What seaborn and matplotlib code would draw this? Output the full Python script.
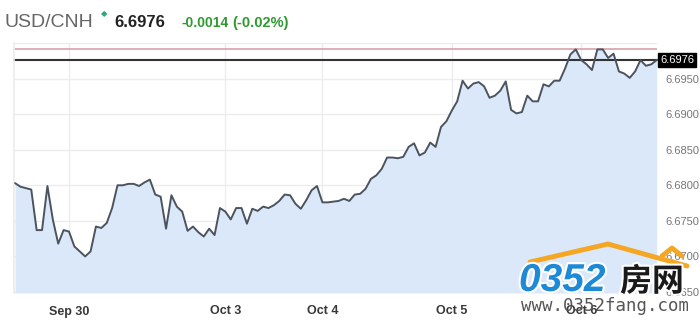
import matplotlib
matplotlib.use("Agg")
import matplotlib.pyplot as plt
import matplotlib.patheffects as pe
import seaborn as sns
import pandas as pd
import numpy as np

# ---- data ----
rate = [
    6.6803, 6.6798, 6.6796, 6.6794, 6.6737, 6.6737, 6.6799, 6.6752, 6.6718, 6.6737,
    6.6735, 6.6714, 6.6707, 6.6700, 6.6707, 6.6742, 6.6740, 6.6747, 6.6768, 6.6800,
    6.6800, 6.6802, 6.6802, 6.6799, 6.6804, 6.6808, 6.6787, 6.6784, 6.6739, 6.6786,
    6.6770, 6.6763, 6.6736, 6.6742, 6.6734, 6.6728, 6.6739, 6.6730, 6.6768, 6.6763,
    6.6752, 6.6768, 6.6768, 6.6746, 6.6767, 6.6764, 6.6770, 6.6768, 6.6772, 6.6778,
    6.6787, 6.6786, 6.6774, 6.6767, 6.6779, 6.6793, 6.6799, 6.6776, 6.6776, 6.6777,
    6.6778, 6.6781, 6.6778, 6.6787, 6.6788, 6.6795, 6.6809, 6.6814, 6.6823, 6.6839,
    6.6839, 6.6838, 6.6840, 6.6854, 6.6859, 6.6842, 6.6846, 6.6860, 6.6854, 6.6882,
    6.6890, 6.6905, 6.6918, 6.6947, 6.6936, 6.6943, 6.6945, 6.6939, 6.6923, 6.6926,
    6.6933, 6.6946, 6.6906, 6.6901, 6.6903, 6.6926, 6.6918, 6.6918, 6.6942, 6.6939,
    6.6947, 6.6947, 6.6964, 6.6984, 6.6991, 6.6976, 6.6970, 6.6962, 6.6991, 6.6991,
    6.6979, 6.6985, 6.6960, 6.6957, 6.6951, 6.6960, 6.6976, 6.6968, 6.6970, 6.6976,
]
step = list(range(len(rate)))
date_ticks = [10, 39, 57, 81, 105]
date_labels = ["Sep 30", "Oct 3", "Oct 4", "Oct 5", "Oct 6"]
y_ticks = [6.6650, 6.6700, 6.6750, 6.6800, 6.6850, 6.6900, 6.6950, 6.7000]
y_labels = ["6.6650", "6.6700", "6.6750", "6.6800", "6.6850", "6.6900", "6.6950", ""]
last_price = 6.6976
high_price = 6.6991
pair = "USD/CNH"
change = "-0.0014"
change_pct = "(-0.02%)"

df = pd.DataFrame({"step": step, "rate": rate})

sns.set_theme(style="white")
plt.rcParams["font.family"] = ["Liberation Sans", "Noto Sans CJK SC", "DejaVu Sans"]

W, H = 700, 320
fig = plt.figure(figsize=(W / 100, H / 100), dpi=100)
fig.patch.set_facecolor("white")
ax = fig.add_axes([14 / W, 1 - 293 / H, (657 - 14) / W, (293 - 43) / H])

ymin, ymax = 6.66486, 6.7000
ax.set_ylim(ymin, ymax)
ax.set_xlim(-0.2, 119.06)

ax.fill_between(df["step"], df["rate"], ymin, color="#dbe8fa", lw=0, zorder=1)
sns.lineplot(data=df, x="step", y="rate", ax=ax, color="#4b545e", lw=1.4, zorder=3)

ax.axhline(high_price, color="#d8a2aa", lw=1.2, zorder=2)
ax.axhline(last_price, color="#333333", lw=1.5, zorder=2, clip_on=False)

ax.set_xticks(date_ticks)
ax.set_xticklabels(date_labels, fontsize=9, color="#383838", fontweight="bold")
ax.set_yticks(y_ticks)
ax.set_yticklabels(y_labels, fontsize=8, color="#777777")
ax.yaxis.tick_right()
ax.tick_params(axis="y", length=0, pad=6)
ax.tick_params(axis="x", length=0, pad=9)
ax.grid(True, color="#ececec", lw=1)
ax.set_axisbelow(True)
for s in ["top", "right", "bottom"]:
    ax.spines[s].set_visible(False)
ax.spines["left"].set_color("#ececec")
ax.set_xlabel("")
ax.set_ylabel("")

# last price label box
ax.text(1.0 + 3 / 643, last_price, f"{last_price:.4f}", transform=ax.get_yaxis_transform(),
        ha="left", va="center", fontsize=8, color="white",
        bbox=dict(boxstyle="square,pad=0.2", fc="black", ec="black"), zorder=5, clip_on=False)

# header
fig.text(5 / W, 1 - 27 / H, pair, fontsize=14, color="#666666", va="baseline")
fig.text(104 / W, 1 - 16 / H, "\u25C6", fontsize=6, color="#2aa877", ha="center", va="baseline",
         family=["DejaVu Sans"])
fig.text(114 / W, 1 - 27 / H, f"{last_price:.4f}", fontsize=12, color="#222222",
         fontweight="bold", va="baseline")
fig.text(181 / W, 1 - 27 / H, change, fontsize=10, color="#2f9a2f", fontweight="bold", va="baseline")
fig.text(232 / W, 1 - 27 / H, change_pct, fontsize=10.5, color="#2f9a2f", fontweight="bold",
         va="baseline")

# watermark
roof_x = [530 / W, 608 / W, 687 / W]
roof_y = [1 - 262 / H, 1 - 244 / H, 1 - 266 / H]
fig.add_artist(plt.Line2D(roof_x, roof_y, color="#f5a623", lw=3.5, solid_capstyle="round"))
fig.add_artist(plt.Line2D([662 / W, 672 / W, 682 / W], [1 - 256 / H, 1 - 248 / H, 1 - 256 / H],
                          color="#f5a623", lw=3.5))
stroke = [pe.withStroke(linewidth=3, foreground="white")]
fig.text(519 / W, 1 - 291 / H, "0352", fontsize=28, color="#1c8ad6", fontweight="bold",
         style="italic", va="baseline", path_effects=stroke)
fig.text(620 / W, 1 - 291 / H, "房网", fontsize=23, color="#1a1a1a", fontweight="bold",
         va="baseline", family=["Noto Sans CJK SC"], path_effects=stroke)
fig.text(521 / W, 1 - 297 / H, "www.0352fang.com", fontsize=12.5, color="#555555",
         va="top", family=["DejaVu Sans Mono"])

fig.savefig("out.png", dpi=100, facecolor="white")
